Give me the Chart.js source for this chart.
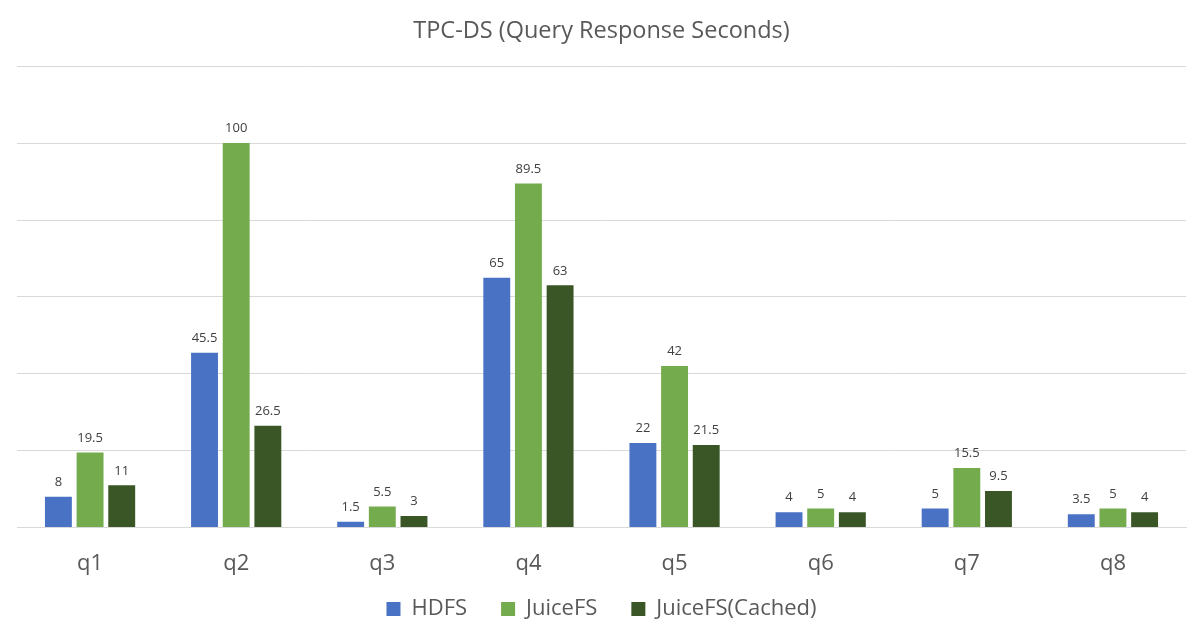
<!DOCTYPE html>
<html><head><meta charset="utf-8">
<script src="https://cdn.jsdelivr.net/npm/chart.js@4/dist/chart.umd.min.js"></script>
<style>html,body{margin:0;padding:0;background:#fff;}#wrap{width:1200px;height:638px;}</style>
</head><body><div id="wrap"><canvas id="c"></canvas></div>
<script>
const categories = ['q1','q2','q3','q4','q5','q6','q7','q8'];
const hdfs = [8,45.5,1.5,65,22,4,5,3.5];
const juicefs = [19.5,100,5.5,89.5,42,5,15.5,5];
const juicefsCached = [11,26.5,3,63,21.5,4,9.5,4];
const seriesNames = ['HDFS','JuiceFS','JuiceFS(Cached)'];

const labelPlugin = {
  id:'labels',
  afterLayout(chart){
    // raise the legend row closer to the axis labels (extend its box upward)
    if (chart.legend) { chart.legend.top -= 28; }
  },
  afterDatasetsDraw(chart){
    const ctx = chart.ctx;
    ctx.save();
    ctx.font = '13px "Open Sans", sans-serif';
    ctx.fillStyle = '#404040';
    ctx.textAlign = 'center';
    ctx.textBaseline = 'bottom';
    chart.data.datasets.forEach((ds,i)=>{
      chart.getDatasetMeta(i).data.forEach((bar,j)=>{
        ctx.fillText(String(ds.data[j]), bar.x, bar.y - 8);
      });
    });
    ctx.restore();
  }
};

new Chart(document.getElementById('c'), {
  type:'bar',
  data:{
    labels:categories,
    datasets:[
      {label:seriesNames[0],data:hdfs,backgroundColor:'#4a72c4'},
      {label:seriesNames[1],data:juicefs,backgroundColor:'#74ab4d'},
      {label:seriesNames[2],data:juicefsCached,backgroundColor:'#3a5627'}
    ]
  },
  options:{
    responsive:true, maintainAspectRatio:false, animation:false,
    layout:{padding:{left:17,right:14,top:0,bottom:4}},
    datasets:{bar:{categoryPercentage:0.65,barPercentage:0.85}},
    plugins:{
      title:{display:true,text:'TPC-DS (Query Response Seconds)',color:'#595959',
        font:{family:'"Open Sans", sans-serif',size:23.5,weight:'normal'},padding:{top:17.5,bottom:20.5}},
      legend:{position:'bottom',maxHeight:42,labels:{color:'#595959',boxWidth:14,boxHeight:14,padding:34,
        font:{family:'"Open Sans", sans-serif',size:22}}},
      tooltip:{enabled:false}
    },
    scales:{
      x:{grid:{display:false},border:{color:'#d9d9d9'},
        ticks:{color:'#595959',padding:15,font:{family:'"Open Sans", sans-serif',size:22}}},
      y:{min:0,max:120,ticks:{display:false,stepSize:20},border:{display:false},
        grid:{color:'#d9d9d9',drawTicks:false}}
    }
  },
  plugins:[labelPlugin]
});
</script></body></html>
